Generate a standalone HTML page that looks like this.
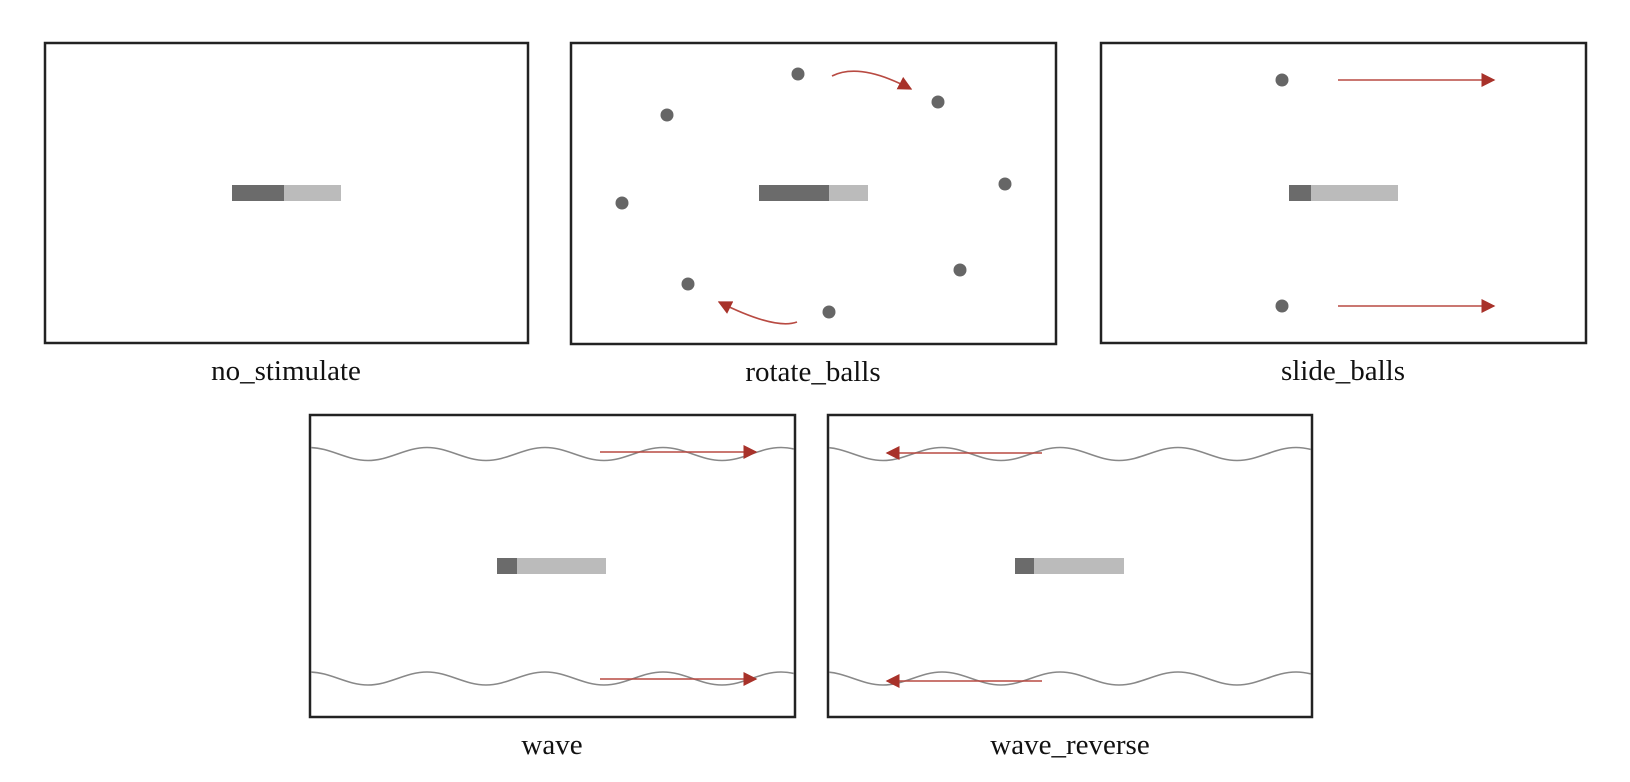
<!DOCTYPE html>
<html><head><meta charset="utf-8"><style>
html,body{margin:0;padding:0;background:#fff;}
svg{display:block}
text{font-family:"Liberation Serif",serif;font-size:29px;fill:#111;text-anchor:middle}
</style></head><body>
<svg width="1630" height="782" viewBox="0 0 1630 782" xmlns="http://www.w3.org/2000/svg">
<defs>
<marker id="ah" viewBox="0 0 10 10" refX="9" refY="5" markerWidth="14" markerHeight="14" markerUnits="userSpaceOnUse" orient="auto">
<path d="M0,0 L10,5 L0,10 z" fill="#a8322a"/></marker>
<clipPath id="c4"><rect x="311" y="416" width="483" height="300"/></clipPath>
<clipPath id="c5"><rect x="829" y="416" width="482" height="300"/></clipPath>
</defs>
<g fill="none" stroke="#222" stroke-width="2.5">
<rect x="45" y="43" width="483" height="300"/>
<rect x="571" y="43" width="485" height="301"/>
<rect x="1101" y="43" width="485" height="300"/>
<rect x="310" y="415" width="485" height="302"/>
<rect x="828" y="415" width="484" height="302"/>
</g>
<rect x="232" y="185" width="109" height="16" fill="#bbb"/><rect x="232" y="185" width="52" height="16" fill="#6b6b6b"/>
<rect x="759" y="185" width="109" height="16" fill="#bbb"/><rect x="759" y="185" width="70" height="16" fill="#6b6b6b"/>
<rect x="1289" y="185" width="109" height="16" fill="#bbb"/><rect x="1289" y="185" width="22" height="16" fill="#6b6b6b"/>
<rect x="497" y="558" width="109" height="16" fill="#bbb"/><rect x="497" y="558" width="20" height="16" fill="#6b6b6b"/>
<rect x="1015" y="558" width="109" height="16" fill="#bbb"/><rect x="1015" y="558" width="19" height="16" fill="#6b6b6b"/>
<g fill="#666">
<circle cx="798" cy="74" r="6.5"/><circle cx="667" cy="115" r="6.5"/><circle cx="938" cy="102" r="6.5"/>
<circle cx="1005" cy="184" r="6.5"/><circle cx="622" cy="203" r="6.5"/><circle cx="960" cy="270" r="6.5"/>
<circle cx="688" cy="284" r="6.5"/><circle cx="829" cy="312" r="6.5"/>
<circle cx="1282" cy="80" r="6.5"/><circle cx="1282" cy="306" r="6.5"/>
</g>
<g fill="none" stroke="#888" stroke-width="1.6">
<g clip-path="url(#c4)">
<path d="M309,447.5 c21.5,0 37.5,13 59,13 c21.5,0 37.5,-13 59,-13 c21.5,0 37.5,13 59,13 c21.5,0 37.5,-13 59,-13 c21.5,0 37.5,13 59,13 c21.5,0 37.5,-13 59,-13 c21.5,0 37.5,13 59,13 c21.5,0 37.5,-13 59,-13 c21.5,0 37.5,13 59,13 c21.5,0 37.5,-13 59,-13"/>
<path d="M309,672 c21.5,0 37.5,13 59,13 c21.5,0 37.5,-13 59,-13 c21.5,0 37.5,13 59,13 c21.5,0 37.5,-13 59,-13 c21.5,0 37.5,13 59,13 c21.5,0 37.5,-13 59,-13 c21.5,0 37.5,13 59,13 c21.5,0 37.5,-13 59,-13 c21.5,0 37.5,13 59,13 c21.5,0 37.5,-13 59,-13"/>
</g>
<g clip-path="url(#c5)">
<path d="M824,447.5 c21.5,0 37.5,13 59,13 c21.5,0 37.5,-13 59,-13 c21.5,0 37.5,13 59,13 c21.5,0 37.5,-13 59,-13 c21.5,0 37.5,13 59,13 c21.5,0 37.5,-13 59,-13 c21.5,0 37.5,13 59,13 c21.5,0 37.5,-13 59,-13 c21.5,0 37.5,13 59,13 c21.5,0 37.5,-13 59,-13"/>
<path d="M824,672 c21.5,0 37.5,13 59,13 c21.5,0 37.5,-13 59,-13 c21.5,0 37.5,13 59,13 c21.5,0 37.5,-13 59,-13 c21.5,0 37.5,13 59,13 c21.5,0 37.5,-13 59,-13 c21.5,0 37.5,13 59,13 c21.5,0 37.5,-13 59,-13 c21.5,0 37.5,13 59,13 c21.5,0 37.5,-13 59,-13"/>
</g>
</g>
<g fill="none" stroke="#b84a42" stroke-width="1.6" marker-end="url(#ah)">
<path d="M832,76 Q860,62 911,89"/>
<path d="M797,322 Q775,330 719,302"/>
<path d="M1338,80 L1494,80"/>
<path d="M1338,306 L1494,306"/>
<path d="M600,452 L756,452"/>
<path d="M600,679 L756,679"/>
<path d="M1042,453 L887,453"/>
<path d="M1042,681 L887,681"/>
</g>
<text x="286" y="380">no_stimulate</text>
<text x="813" y="381">rotate_balls</text>
<text x="1343" y="380">slide_balls</text>
<text x="552" y="754">wave</text>
<text x="1070" y="754">wave_reverse</text>
</svg>
</body></html>
